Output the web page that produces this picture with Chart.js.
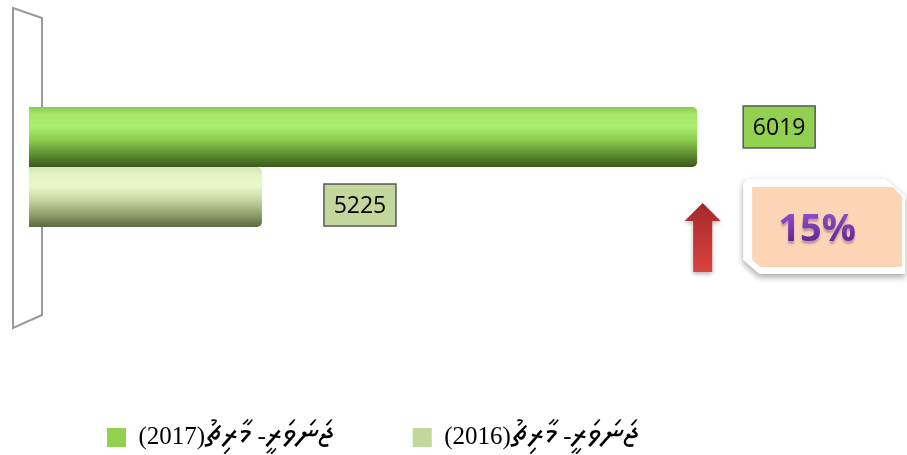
<!DOCTYPE html>
<html>
<head>
<meta charset="utf-8">
<script src="https://cdn.jsdelivr.net/npm/chart.js@4.4.1/dist/chart.umd.min.js"></script>
<style>
/* wider Thaana glyphs for the legend, only if a local Thaana face is found */
@font-face {
    font-family: 'ThaanaWide';
    src: local('Noto Sans Thaana'), local('NotoSansThaana-Regular'), local('Noto Sans Thaana Regular'),
         local('FreeSerif'), local('FreeSans'), local('Faruma'), local('MV Boli');
    unicode-range: U+0780-07BF;
    size-adjust: 136%;
}
html, body { margin: 0; padding: 0; background: #fff; }
#wrap { width: 907px; height: 455px; position: relative; }
</style>
</head>
<body>
<div id="wrap"><canvas id="chart"></canvas></div>
<script>
// data
const categories = [''];
const seriesLabels = ['ޖަނަވަރީ- މާރިޗު(2017)', 'ޖަނަވަރީ- މާރިޗު(2016)'];
const values2017 = [6019];
const values2016 = [5225];
const axisMin = 4800;
const axisMax = 6400;
const changeText = '15%';

const CAT_PCT = 0.38;

// cylinder look: vertical gradient per bar
const stops2017 = [[0, '#8cc852'], [0.12, '#a6e66a'], [0.32, '#aaee6e'], [0.55, '#8ccc4e'], [0.8, '#5c8c30'], [1, '#3a571c']];
const stops2016 = [[0, '#d4e4b4'], [0.12, '#e2f2c2'], [0.32, '#e8f8c8'], [0.55, '#c6d6a0'], [0.8, '#8e9e6c'], [1, '#5a6840']];

function barGradient(c, stops) {
    const chart = c.chart;
    const area = chart.chartArea;
    if (!area) return stops[2][1];
    const center = chart.scales.y.getPixelForValue(0);
    const thick = (area.bottom - area.top) * CAT_PCT / 2;
    const top = c.datasetIndex === 0 ? center - thick : center;
    const g = chart.ctx.createLinearGradient(0, top, 0, top + thick);
    stops.forEach(s => g.addColorStop(s[0], s[1]));
    return g;
}

// the grey 3d wall at the left
const wallPlugin = {
    id: 'wall',
    beforeDatasetsDraw(chart) {
        const { ctx, chartArea: a } = chart;
        ctx.save();
        ctx.strokeStyle = '#9a9a9a';
        ctx.lineWidth = 2;
        ctx.beginPath();
        ctx.moveTo(a.left - 16, a.top - 1);
        ctx.lineTo(a.left + 13, a.top + 9);
        ctx.lineTo(a.left + 13, a.bottom - 10);
        ctx.lineTo(a.left - 16, a.bottom + 3);
        ctx.closePath();
        ctx.stroke();
        ctx.restore();
    }
};

// value boxes next to bars
const labelStyle = [
    { fill: '#92d050', dx: 46, dy: -31 },
    { fill: '#c3d69b', dx: 62, dy: -13 }
];

const valueLabelPlugin = {
    id: 'valueLabels',
    afterDatasetsDraw(chart) {
        const ctx = chart.ctx;
        chart.data.datasets.forEach((ds, i) => {
            const el = chart.getDatasetMeta(i).data[0];
            if (!el) return;
            const st = labelStyle[i];
            const x = el.x + st.dx;
            const y = el.y + st.dy;
            ctx.save();
            ctx.fillStyle = st.fill;
            ctx.fillRect(x, y, 72, 42);
            ctx.strokeStyle = '#595959';
            ctx.lineWidth = 1.5;
            ctx.strokeRect(x, y, 72, 42);
            ctx.fillStyle = '#000';
            ctx.font = '23px "Open Sans", sans-serif';
            ctx.textAlign = 'center';
            ctx.textBaseline = 'middle';
            ctx.fillText(String(ds.data[0]), x + 36, y + 22);
            ctx.restore();
        });
    }
};

// red arrow + "15%" callout, placed from the 2017 bar end
const changePlugin = {
    id: 'change',
    afterDraw(chart) {
        const ctx = chart.ctx;
        const el = chart.getDatasetMeta(0).data[0];
        if (!el) return;
        const cx = el.x + 5.5;
        ctx.save();
        // arrow
        const ag = ctx.createLinearGradient(0, 203, 0, 272);
        ag.addColorStop(0, '#a5282a');
        ag.addColorStop(1, '#d8443e');
        ctx.shadowColor = 'rgba(0,0,0,0.3)';
        ctx.shadowBlur = 4;
        ctx.shadowOffsetY = 2;
        ctx.fillStyle = ag;
        ctx.beginPath();
        ctx.moveTo(cx, 203);
        ctx.lineTo(cx + 18, 221);
        ctx.lineTo(cx + 9.5, 221);
        ctx.lineTo(cx + 9.5, 272);
        ctx.lineTo(cx - 9.5, 272);
        ctx.lineTo(cx - 9.5, 221);
        ctx.lineTo(cx - 18, 221);
        ctx.closePath();
        ctx.fill();

        // callout frame
        const L = el.x + 46;
        ctx.shadowColor = 'rgba(0,0,0,0.35)';
        ctx.shadowBlur = 6;
        ctx.shadowOffsetY = 3;
        ctx.fillStyle = '#ffffff';
        ctx.beginPath();
        ctx.moveTo(L + 4, 179);
        ctx.lineTo(L + 142, 179);
        ctx.lineTo(L + 162, 196);
        ctx.lineTo(L + 162, 274);
        ctx.lineTo(L + 16, 274);
        ctx.lineTo(L, 260);
        ctx.lineTo(L, 183);
        ctx.closePath();
        ctx.fill();
        ctx.shadowColor = 'transparent';
        ctx.fillStyle = '#fbd5b5';
        ctx.beginPath();
        ctx.moveTo(L + 9, 187);
        ctx.lineTo(L + 150, 187);
        ctx.lineTo(L + 159, 197);
        ctx.lineTo(L + 159, 267);
        ctx.lineTo(L + 17, 267);
        ctx.lineTo(L + 9, 260);
        ctx.closePath();
        ctx.fill();

        // text
        ctx.font = 'bold 38px "Open Sans", sans-serif';
        ctx.textAlign = 'center';
        ctx.textBaseline = 'middle';
        const tg = ctx.createLinearGradient(0, 215, 0, 245);
        tg.addColorStop(0, '#8a4cc4');
        tg.addColorStop(1, '#5e2290');
        ctx.shadowColor = 'rgba(80,40,120,0.35)';
        ctx.shadowBlur = 2;
        ctx.shadowOffsetY = 3;
        ctx.fillStyle = tg;
        ctx.fillText(changeText, L + 74, 230);
        ctx.restore();
    }
};

function drawChart() {
    new Chart(document.getElementById('chart'), {
        type: 'bar',
        data: {
            labels: categories,
            datasets: [
                {
                    label: seriesLabels[0],
                    data: values2017,
                    backgroundColor: c => barGradient(c, stops2017),
                    borderRadius: 5,
                    borderSkipped: false
                },
                {
                    label: seriesLabels[1],
                    data: values2016,
                    backgroundColor: c => barGradient(c, stops2016),
                    borderRadius: 5,
                    borderSkipped: false
                }
            ]
        },
        options: {
            indexAxis: 'y',
            responsive: true,
            maintainAspectRatio: false,
            animation: false,
            layout: { padding: { left: 29, right: 1, top: 9, bottom: -5 } },
            datasets: { bar: { categoryPercentage: CAT_PCT, barPercentage: 1 } },
            scales: {
                x: {
                    min: axisMin,
                    max: axisMax,
                    grid: { display: false },
                    border: { display: false },
                    ticks: { display: false },
                    afterFit(scale) { scale.height = 22; }
                },
                y: { display: false }
            },
            plugins: {
                legend: {
                    position: 'bottom',
                    align: 'start',
                    textDirection: 'rtl',
                    labels: {
                        boxWidth: 19,
                        boxHeight: 19,
                        padding: 78,
                        color: '#000',
                        font: { family: '"ThaanaWide", "Liberation Serif", "Times New Roman", serif', size: 25 },
                        generateLabels(chart) {
                            const fills = ['#92d050', '#c3d69b'];
                            return chart.data.datasets.map((ds, i) => ({
                                text: ds.label,
                                fillStyle: fills[i],
                                strokeStyle: fills[i],
                                lineWidth: 0,
                                datasetIndex: i,
                                hidden: false
                            }));
                        }
                    }
                },
                tooltip: { enabled: false }
            }
        },
        plugins: [wallPlugin, valueLabelPlugin, changePlugin]
    });
}

document.fonts.load('25px "ThaanaWide"', 'ޖ').then(drawChart, drawChart);
</script>
</body>
</html>
